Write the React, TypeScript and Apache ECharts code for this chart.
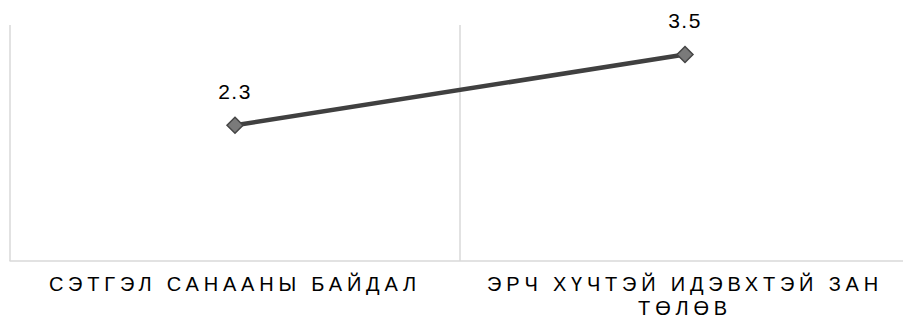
import React, { useEffect, useRef } from "react";
import * as echarts from "echarts";

const categories: string[] = ["СЭТГЭЛ САНААНЫ БАЙДАЛ", "ЭРЧ ХҮЧТЭЙ ИДЭВХТЭЙ ЗАН ТӨЛӨВ"];
const values: number[] = [2.3, 3.5];

function wrapWords(text: string, maxChars: number): string {
  const words = text.split(" ");
  const lines: string[] = [];
  let cur = "";
  for (const w of words) {
    const next = cur ? cur + " " + w : w;
    if (next.length > maxChars && cur) {
      lines.push(cur);
      cur = w;
    } else {
      cur = next;
    }
  }
  if (cur) lines.push(cur);
  return lines.join("\n");
}

export default function App() {
  const ref = useRef<HTMLDivElement>(null);
  useEffect(() => {
    if (!ref.current) return;
    const chart = echarts.init(ref.current, undefined, { renderer: "svg" });
    chart.setOption({
      animation: false,
      backgroundColor: "#ffffff",
      grid: { left: 10, width: 900, top: 25, height: 236, containLabel: false, outerBoundsMode: "none" },
      xAxis: {
        type: "category",
        data: categories,
        boundaryGap: true,
        axisLine: { show: true, lineStyle: { color: "#d9d9d9", width: 1.5 } },
        axisTick: { show: false },
        splitLine: { show: true, lineStyle: { color: "#d9d9d9", width: 1.5 } },
        axisLabel: {
          interval: 0,
          margin: 11,
          fontSize: 20,
          lineHeight: 24,
          color: "#000000",
          fontFamily: "Liberation Sans",
          formatter: (v: string) => wrapWords(v, 23),
        },
      },
      yAxis: {
        type: "value",
        min: 0,
        max: 4,
        axisLine: { show: false },
        axisTick: { show: false },
        axisLabel: { show: false },
        splitLine: { show: false },
      },
      series: [
        {
          type: "line",
          data: values,
          symbol: "diamond",
          symbolSize: 16,
          lineStyle: { color: "#404040", width: 4.5 },
          itemStyle: { color: "#7a7a7a", borderColor: "#454545", borderWidth: 1.5 },
          label: {
            show: true,
            position: "top",
            distance: 15,
            fontSize: 21,
            color: "#000000",
            fontFamily: "Liberation Sans",
          },
        },
      ],
    });
    return () => chart.dispose();
  }, []);
  return (
    <>
      <style>{`body{margin:0;} #chartbox text[style*="20px"]{letter-spacing:4.8px;} #chartbox text[style*="21px"]{letter-spacing:1.5px;}`}</style>
      <div id="chartbox" ref={ref} style={{ width: 903, height: 318 }} />
    </>
  );
}
